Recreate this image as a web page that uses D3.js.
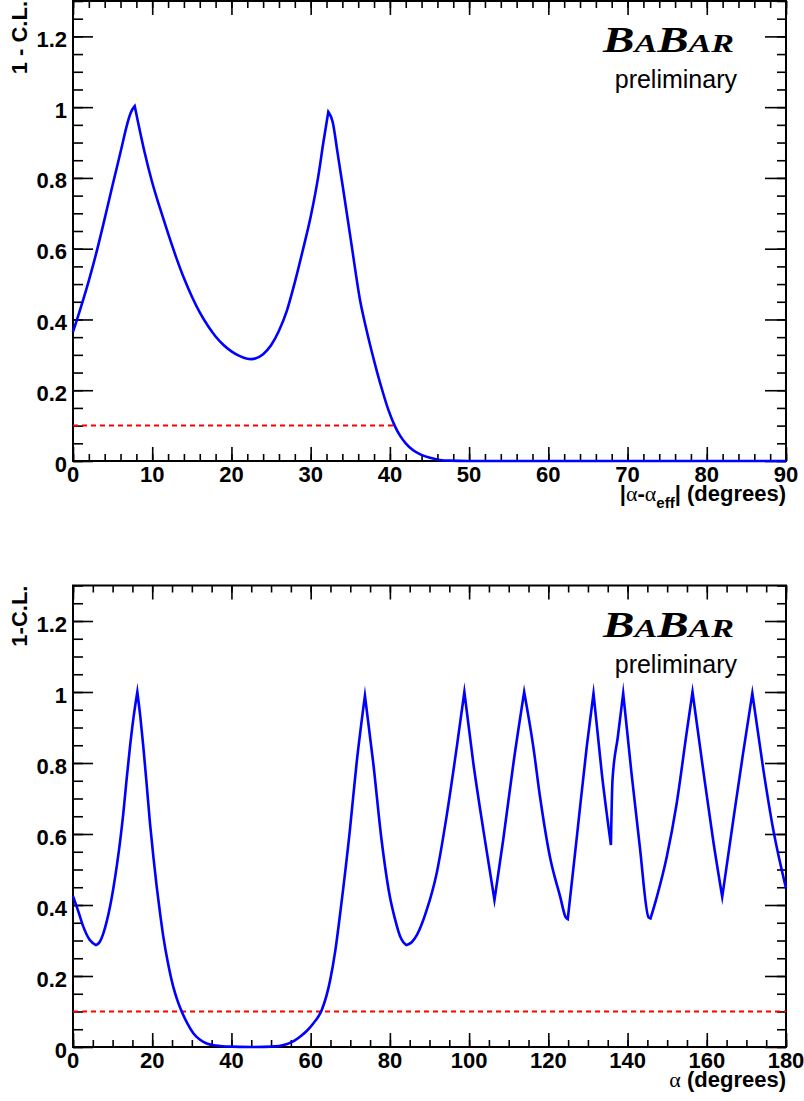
<!DOCTYPE html>
<html>
<head>
<meta charset="utf-8">
<script src="https://cdn.jsdelivr.net/npm/d3@7"></script>
<style>
  html, body { margin: 0; padding: 0; background: #fff; }
  svg { display: block; font-family: "Liberation Sans", Arial, Helvetica, sans-serif; }
</style>
</head>
<body>
<svg id="chart" width="804" height="1101"></svg>
<script>
// ---------------- DATA ----------------
// Top panel: 1 - C.L. vs |alpha - alpha_eff|
const topAlpha = [0, 1, 2, 3, 4, 5, 6, 7, 7.3, 7.79, 9, 10, 11, 12, 13, 14, 15, 16, 17, 18, 19, 20, 21, 22, 22.5, 23, 24, 25, 26, 27, 28, 29, 30, 31, 31.6, 32.23, 32.78, 33.4, 34.12, 35.2, 36.23, 37.0, 37.7, 38.4, 39.1, 39.8, 40.6, 41.3, 42.0, 42.9, 43.9, 45.06, 46.3, 47.6, 50, 60, 70, 80, 90];
const topCL    = [0.365, 0.435, 0.51, 0.593, 0.685, 0.78, 0.873, 0.965, 0.985, 1.003, 0.876, 0.787, 0.713, 0.643, 0.577, 0.517, 0.465, 0.42, 0.383, 0.352, 0.328, 0.31, 0.297, 0.289, 0.288, 0.29, 0.302, 0.327, 0.368, 0.425, 0.505, 0.595, 0.69, 0.81, 0.9, 0.987, 0.958, 0.87, 0.766, 0.605, 0.455, 0.375, 0.31, 0.25, 0.195, 0.145, 0.1, 0.071, 0.05, 0.031, 0.018, 0.009, 0.003, 0.001, 0, 0, 0, 0, 0];

// Bottom panel: 1 - C.L. vs alpha
const botAlpha = [0, 1.4, 2.6, 4.2, 5.8, 6.7, 7.66, 8.5, 9.34, 10.2, 11.03, 11.9, 12.7, 13.5, 14.39, 15.3, 16.24, 17.0, 17.75, 18.6, 19.44, 20.3, 21.13, 22.0, 22.8, 24.0, 25.3, 26.4, 27.44, 28.9, 30.37, 32.0, 33.75, 35.5, 37.1, 40, 45, 50, 53.9, 55.6, 57.3, 59.0, 60.7, 62.8, 64.9, 66.2, 67.6, 69.9, 71.6, 73.7, 75.8, 77.9, 80.0, 81.3, 82.6, 83.4, 84.2, 85.5, 86.8, 89.3, 91.8, 94.3, 96.9, 98.8, 101.06, 103.6, 106.4, 108.6, 111.2, 113.9, 116.2, 117.9, 120.4, 123.0, 124.4, 124.9, 127.2, 129.7, 131.4, 133.5, 135.8, 136.2, 137.55, 138.9, 141.0, 143.1, 145.3, 145.8, 147.4, 149.9, 152.4, 154.9, 156.4, 159.1, 161.6, 163.9, 166.7, 169.2, 171.5, 174.3, 176.8, 180];
const botCL    = [0.425, 0.38, 0.339, 0.302, 0.287, 0.295, 0.32, 0.353, 0.395, 0.448, 0.508, 0.58, 0.658, 0.75, 0.846, 0.93, 1.0, 0.93, 0.846, 0.74, 0.63, 0.535, 0.452, 0.375, 0.311, 0.235, 0.17, 0.13, 0.1, 0.066, 0.039, 0.021, 0.01, 0.005, 0.003, 0.001, 0, 0.001, 0.008, 0.016, 0.029, 0.045, 0.067, 0.104, 0.187, 0.27, 0.39, 0.611, 0.8, 0.99, 0.8, 0.583, 0.423, 0.36, 0.311, 0.295, 0.287, 0.295, 0.315, 0.386, 0.489, 0.649, 0.846, 1.0, 0.8, 0.611, 0.414, 0.583, 0.8, 1.0, 0.846, 0.705, 0.536, 0.423, 0.365, 0.36, 0.592, 0.846, 0.996, 0.771, 0.569, 0.752, 0.874, 0.996, 0.771, 0.564, 0.365, 0.362, 0.423, 0.536, 0.686, 0.884, 1.0, 0.78, 0.583, 0.423, 0.64, 0.83, 0.996, 0.78, 0.611, 0.447];

// 90% C.L. reference line
const clLevel = 0.1;
const topCutRange = [0, 40.6];
const botCutRange = [0, 180];

// Ticks
const yMajorTicks = [0, 0.2, 0.4, 0.6, 0.8, 1, 1.2];
const yMinorTicks = d3.range(0, 1.3001, 0.05).map(v => +v.toFixed(2));
const topXMajor = [0, 10, 20, 30, 40, 50, 60, 70, 80, 90];
const topXMinor = d3.range(0, 90.01, 2);
const botXMajor = [0, 20, 40, 60, 80, 100, 120, 140, 160, 180];
const botXMinor = d3.range(0, 180.01, 5);

const yTitles = ["1 - C.L.", "1-C.L."];

// ---------------- DRAWING ----------------
const svg = d3.select("#chart");
svg.append("rect").attr("width", 804).attr("height", 1101).attr("fill", "#fff");

const L = 73, R = 786;
const serif = "'Liberation Serif', 'Times New Roman', Times, serif";

// One continuous path: smooth (monotone) between local extrema, sharp at extrema
function curvePath(pts, x, y) {
  const idx = [0];
  for (let i = 1; i < pts.length - 1; i++) {
    const a = pts[i][1] - pts[i - 1][1], b = pts[i + 1][1] - pts[i][1];
    if (a * b < 0) idx.push(i);
  }
  idx.push(pts.length - 1);
  const line = d3.line().x(d => x(d[0])).y(d => y(d[1])).curve(d3.curveMonotoneX);
  let d = "";
  for (let k = 0; k < idx.length - 1; k++) {
    const seg = pts.slice(idx[k], idx[k + 1] + 1);
    let s = line(seg);
    if (k > 0) s = s.replace(/^M[^A-Za-z]*/, "");
    d += s;
  }
  return d;
}

function panel(cfg) {
  const g = svg.append("g");
  const x = d3.scaleLinear().domain(cfg.xDomain).range([L, R]);
  const y = d3.scaleLinear().domain([0, 1.3]).range([cfg.bottom, cfg.top]);

  const mk = (axisFn, scale, vals, size, tx, ty) => {
    const a = g.append("g").attr("transform", `translate(${tx},${ty})`)
      .call(axisFn(scale).tickValues(vals).tickSize(size).tickFormat(""));
    a.select(".domain").remove();
    a.selectAll("line").attr("stroke", "#000").attr("stroke-width", 1.6);
  };
  mk(d3.axisBottom, x, cfg.xMinor, -7, 0, cfg.bottom);
  mk(d3.axisBottom, x, cfg.xMajor, -14, 0, cfg.bottom);
  mk(d3.axisTop, x, cfg.xMinor, -7, 0, cfg.top);
  mk(d3.axisTop, x, cfg.xMajor, -14, 0, cfg.top);
  mk(d3.axisLeft, y, yMinorTicks, -10, L, 0);
  mk(d3.axisLeft, y, yMajorTicks, -20, L, 0);
  mk(d3.axisRight, y, yMinorTicks, -9, R, 0);
  mk(d3.axisRight, y, yMajorTicks, -21, R, 0);

  g.append("rect")
    .attr("x", L).attr("y", cfg.top)
    .attr("width", R - L).attr("height", cfg.bottom - cfg.top)
    .attr("fill", "none").attr("stroke", "#000").attr("stroke-width", 2);

  const fmt = d3.format("~g");
  g.selectAll(".ylab").data(yMajorTicks).join("text")
    .attr("x", L - 6).attr("y", d => y(d) + 10.5)
    .attr("text-anchor", "end")
    .attr("font-size", 22).attr("font-weight", "bold")
    .text(fmt);
  g.selectAll(".xlab").data(cfg.xMajor).join("text")
    .attr("x", d => x(d)).attr("y", cfg.bottom + 21)
    .attr("text-anchor", "middle")
    .attr("font-size", 22).attr("font-weight", "bold")
    .text(fmt);

  g.append("text")
    .attr("transform", `translate(27,${cfg.top}) rotate(-90)`)
    .attr("text-anchor", "end")
    .attr("font-size", 22).attr("font-weight", "bold")
    .text(cfg.yTitle);

  const xt = g.append("text")
    .attr("x", R).attr("y", cfg.bottom + 40)
    .attr("text-anchor", "end")
    .attr("font-size", 22).attr("font-weight", "bold");
  cfg.xTitle(xt);

  g.append("line")
    .attr("x1", x(cfg.cut[0])).attr("x2", x(cfg.cut[1]))
    .attr("y1", y(clLevel)).attr("y2", y(clLevel))
    .attr("stroke", "#ff0000").attr("stroke-width", 2)
    .attr("stroke-dasharray", "5,4");

  const pts = cfg.xs.map((d, i) => [d, cfg.ys[i]]);
  g.append("path")
    .attr("d", curvePath(pts, x, y))
    .attr("fill", "none").attr("stroke", "#0000ff").attr("stroke-width", 2.6)
    .attr("stroke-linejoin", "miter").attr("stroke-miterlimit", 10);

  // BaBar logo
  const logo = g.append("text")
    .attr("x", 603).attr("y", cfg.top + 51)
    .style("font-family", serif)
    .attr("font-weight", "bold").attr("font-style", "italic")
    .attr("textLength", 131).attr("lengthAdjust", "spacingAndGlyphs");
  logo.append("tspan").attr("font-size", 36).text("B");
  logo.append("tspan").attr("font-size", 26).text("A");
  logo.append("tspan").attr("font-size", 36).text("B");
  logo.append("tspan").attr("font-size", 26).text("AR");

  g.append("text")
    .attr("x", 737).attr("y", cfg.top + 87)
    .attr("text-anchor", "end")
    .attr("font-size", 25)
    .text("preliminary");
}

panel({
  top: 1, bottom: 461,
  xDomain: [0, 90], xMajor: topXMajor, xMinor: topXMinor,
  xs: topAlpha, ys: topCL, cut: topCutRange,
  yTitle: yTitles[0],
  xTitle: t => {
    t.append("tspan").text("|");
    t.append("tspan").style("font-family", serif).attr("font-weight", "normal").text("α");
    t.append("tspan").text("-");
    t.append("tspan").style("font-family", serif).attr("font-weight", "normal").text("α");
    t.append("tspan").attr("font-size", 15).attr("dy", 7).text("eff");
    t.append("tspan").attr("dy", -7).text("| (degrees)");
  }
});

panel({
  top: 585.5, bottom: 1047,
  xDomain: [0, 180], xMajor: botXMajor, xMinor: botXMinor,
  xs: botAlpha, ys: botCL, cut: botCutRange,
  yTitle: yTitles[1],
  xTitle: t => {
    t.append("tspan").style("font-family", serif).attr("font-weight", "normal").text("α");
    t.append("tspan").text(" (degrees)");
  }
});
</script>
</body>
</html>
